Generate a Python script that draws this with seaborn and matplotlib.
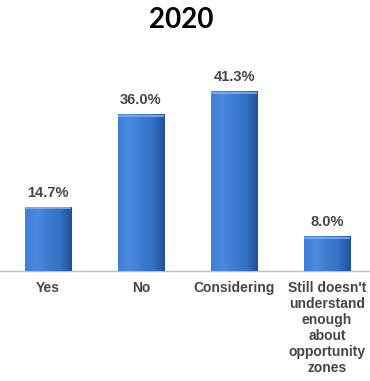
import numpy as np
import pandas as pd
import matplotlib
matplotlib.use("Agg")
import matplotlib.pyplot as plt
import seaborn as sns
from matplotlib.colors import LinearSegmentedColormap

categories = ["Yes", "No", "Considering",
              "Still doesn't\nunderstand\nenough\nabout\nopportunity\nzones"]
values = [14.7, 36.0, 41.3, 8.0]
value_labels = ["14.7%", "36.0%", "41.3%", "8.0%"]
title = "2020"

df = pd.DataFrame({"answer": categories, "share": values})

sns.set_style("white")
plt.rcParams["font.family"] = ["Liberation Sans", "DejaVu Sans"]

fig = plt.figure(figsize=(3.70, 3.81), dpi=100)
ax = fig.add_axes([0.0, 0.2887, 1.0, 0.58])

sns.barplot(data=df, x="answer", y="share", color="#3A78CC", width=0.505,
            saturation=1, ax=ax, edgecolor="none")

# horizontal shading across each bar for a rounded look
shade = LinearSegmentedColormap.from_list(
    "barshade", ["#3F80D6", "#4A8BE0", "#3C7BD0", "#3572C6", "#21509A"])
grad = np.linspace(0, 1, 64).reshape(1, -1)
for p in ax.patches:
    x0, y0 = p.get_x(), p.get_y()
    w, h = p.get_width(), p.get_height()
    im = ax.imshow(grad, cmap=shade, aspect="auto",
                   extent=[x0, x0 + w, y0, y0 + h], zorder=3)
    im.set_clip_path(p)
    # lighter rim along the top
    ax.plot([x0 + 0.01, x0 + w - 0.01], [y0 + h - 0.35, y0 + h - 0.35],
            color="#7DB0EE", lw=1.2, zorder=4, solid_capstyle="butt")

for i, (v, lab) in enumerate(zip(values, value_labels)):
    ax.text(i, v + 1.6, lab, ha="center", va="bottom", fontsize=10.5,
            fontweight="bold", color="#454545")

ax.set_xlim(-0.516, 3.462)
ax.set_ylim(0, 50.7)
ax.set_xlabel("")
ax.set_ylabel("")
ax.set_yticks([])
for s in ["top", "right", "left"]:
    ax.spines[s].set_visible(False)
ax.spines["bottom"].set_color("#BFBFBF")
ax.spines["bottom"].set_linewidth(1.0)
ax.tick_params(axis="x", length=0, pad=7)
for t in ax.get_xticklabels():
    t.set_fontsize(10)
    t.set_fontweight("bold")
    t.set_color("#454545")
    t.set_linespacing(1.18)
    t.set_verticalalignment("top")

fig.text(0.49, 0.947, title, ha="center", va="center", fontsize=20,
         fontweight="bold", family=["Lato", "DejaVu Sans"], color="black")

fig.savefig("out.png", dpi=100)
